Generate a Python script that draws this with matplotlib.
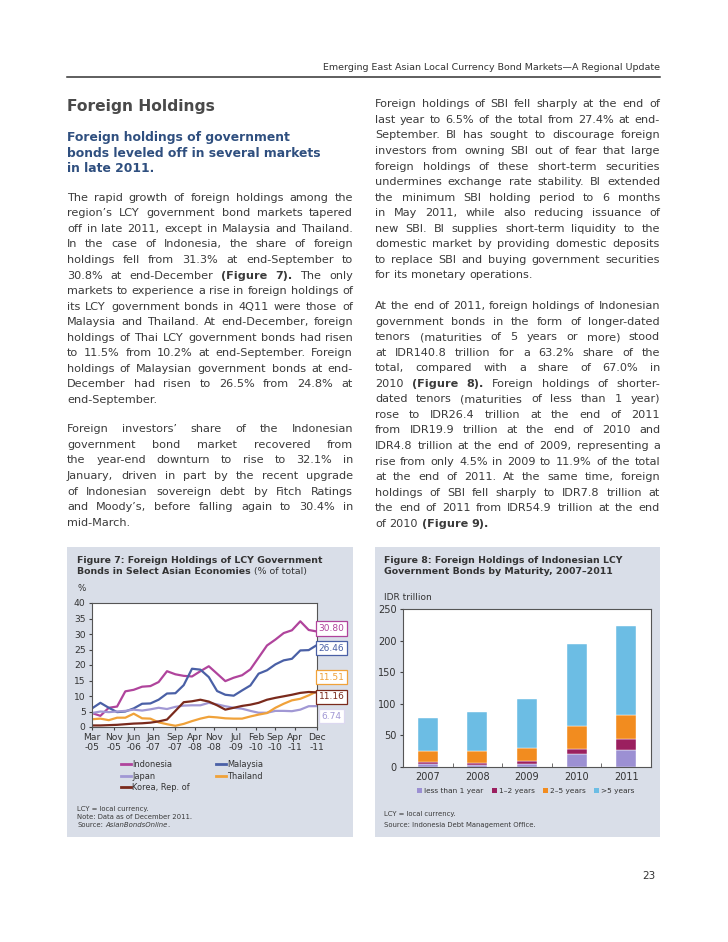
import matplotlib.pyplot as plt
import numpy as np
import pandas as pd
from matplotlib.patches import Rectangle
from matplotlib.transforms import blended_transform_factory

W, H = 728, 942
PX = 100 / 72  # pixels per point at dpi 100
LINE = 15.55

BODY = "#3a3a3a"
PANEL = "#d9dee8"
HEAD_BLUE = "#2f4f7f"

# ---- Figure 7: foreign holdings of LCY government bonds (% of total), quarterly
quarter_dates = pd.date_range("2005-03-01", "2011-12-01", freq="3MS")
tick_dates = pd.to_datetime([
    "2005-03-01", "2005-11-01", "2006-06-01", "2007-01-01", "2007-09-01", "2008-04-01",
    "2008-11-01", "2009-07-01", "2010-02-01", "2010-09-01", "2011-04-01", "2011-12-01",
])
indonesia = [4.5, 3.6, 6.2, 6.6, 11.5, 12.0, 13.0, 13.2, 14.5, 18.0, 17.0, 16.5, 16.3, 18.0,
             19.6, 17.2, 14.8, 15.9, 16.7, 18.6, 22.4, 26.3, 28.2, 30.3, 31.2, 34.1, 31.3, 30.80]
malaysia = [6.0, 7.8, 6.2, 4.8, 5.0, 6.0, 7.5, 7.6, 8.8, 10.8, 10.9, 13.5, 18.8, 18.5,
            16.1, 11.6, 10.4, 10.1, 11.8, 13.4, 17.2, 18.3, 20.2, 21.5, 22.0, 24.7, 24.8, 26.46]
japan = [4.5, 5.0, 4.8, 5.0, 5.2, 5.6, 5.3, 5.7, 6.2, 5.8, 6.5, 6.9, 7.0, 7.0,
         7.8, 7.3, 6.7, 6.2, 5.9, 5.2, 4.6, 4.6, 5.2, 5.2, 5.1, 5.6, 6.7, 6.74]
thailand = [2.5, 2.7, 2.2, 3.0, 3.0, 4.3, 2.8, 2.7, 1.5, 0.9, 0.4, 1.0, 1.9, 2.7,
            3.3, 3.1, 2.8, 2.7, 2.7, 3.4, 4.0, 4.5, 6.2, 7.5, 8.6, 9.1, 10.2, 11.51]
korea = [0.5, 0.5, 0.6, 0.7, 0.9, 1.1, 1.2, 1.4, 1.8, 2.4, 5.2, 8.0, 8.3, 8.8,
         8.2, 7.0, 5.6, 6.2, 6.8, 7.2, 7.8, 8.8, 9.4, 9.9, 10.4, 11.0, 11.3, 11.16]

series_names = ["Indonesia", "Malaysia", "Japan", "Thailand", "Korea, Rep. of"]
series_values = [indonesia, malaysia, japan, thailand, korea]
series_colors = ["#b0449c", "#4a60a6", "#a198d4", "#f0a23a", "#7a2a1c"]
label_edges = ["#b0449c", "#4a60a6", "#dcd8f0", "#f0a23a", "#7a2a1c"]

# ---- Figure 8: foreign holdings of Indonesian LCY govt bonds by maturity (IDR trillion)
years = ["2007", "2008", "2009", "2010", "2011"]
less_1y = [3.8, 2.5, 4.8, 19.9, 26.4]
y1_2 = [3.6, 2.8, 3.7, 8.0, 17.6]
y2_5 = [17.5, 19.5, 21.7, 36.0, 38.0]
over_5y = [52.5, 62.0, 77.8, 131.4, 140.8]
maturity_names = ["less than 1 year", "1\u20132 years", "2\u20135 years", ">5 years"]
maturity_values = [less_1y, y1_2, y2_5, over_5y]
maturity_colors = ["#9c90d3", "#9b1f5f", "#f28c1f", "#6cbde4"]

left_col = [
    ["The rapid growth of foreign holdings among the",
     "region\u2019s LCY government bond markets tapered",
     "off in late 2011, except in Malaysia and Thailand.",
     "In the case of Indonesia, the share of foreign",
     "holdings fell from 31.3% at end-September to",
     "30.8% at end-December *(Figure *7). The only",
     "markets to experience a rise in foreign holdings of",
     "its LCY government bonds in 4Q11 were those of",
     "Malaysia and Thailand. At end-December, foreign",
     "holdings of Thai LCY government bonds had risen",
     "to 11.5% from 10.2% at end-September. Foreign",
     "holdings of Malaysian government bonds at end-",
     "December had risen to 26.5% from 24.8% at",
     "end-September."],
    ["Foreign investors\u2019 share of the Indonesian",
     "government bond market recovered from",
     "the year-end downturn to rise to 32.1% in",
     "January, driven in part by the recent upgrade",
     "of Indonesian sovereign debt by Fitch Ratings",
     "and Moody\u2019s, before falling again to 30.4% in",
     "mid-March."],
]
right_col = [
    ["Foreign holdings of SBI fell sharply at the end of",
     "last year to 6.5% of the total from 27.4% at end-",
     "September. BI has sought to discourage foreign",
     "investors from owning SBI out of fear that large",
     "foreign holdings of these short-term securities",
     "undermines exchange rate stability. BI extended",
     "the minimum SBI holding period to 6 months",
     "in May 2011, while also reducing issuance of",
     "new SBI. BI supplies short-term liquidity to the",
     "domestic market by providing domestic deposits",
     "to replace SBI and buying government securities",
     "for its monetary operations."],
    ["At the end of 2011, foreign holdings of Indonesian",
     "government bonds in the form of longer-dated",
     "tenors (maturities of 5 years or more) stood",
     "at IDR140.8 trillion for a 63.2% share of the",
     "total, compared with a share of 67.0% in",
     "2010 *(Figure *8). Foreign holdings of shorter-",
     "dated tenors (maturities of less than 1 year)",
     "rose to IDR26.4 trillion at the end of 2011",
     "from IDR19.9 trillion at the end of 2010 and",
     "IDR4.8 trillion at the end of 2009, representing a",
     "rise from only 4.5% in 2009 to 11.9% of the total",
     "at the end of 2011. At the same time, foreign",
     "holdings of SBI fell sharply to IDR7.8 trillion at",
     "the end of 2011 from IDR54.9 trillion at the end",
     "of 2010 *(Figure *9)."],
]

fig = plt.figure(figsize=(W / 100, H / 100), dpi=100)
page = fig.add_axes([0, 0, 1, 1])
page.set_xlim(0, W)
page.set_ylim(H, 0)
page.axis("off")
renderer = fig.canvas.get_renderer()


def measure(s, size, **kw):
    t = page.text(0, 0, s, fontsize=size, **kw)
    w = t.get_window_extent(renderer).width
    t.remove()
    return w


def fit(s, width, **kw):
    return 10 * width / measure(s, 10, **kw)


def put(x, yc, s, size, **kw):
    kw.setdefault("color", BODY)
    return page.text(x, yc + 0.36 * size * PX, s, fontsize=size, va="baseline", **kw)


def space(size):
    return measure("a a", size) - measure("aa", size)


def line_words(line, size):
    words = []
    for tok in line.split():
        weight = "bold" if tok.startswith("*") else "normal"
        word = tok.lstrip("*")
        words.append((word, weight, measure(word, size, fontweight=weight)))
    return words


def natural_width(line, size):
    words = line_words(line, size)
    return sum(w for _, _, w in words) + space(size) * (len(words) - 1)


def draw_para(lines, x0, x1, y0, size):
    sp = space(size)
    for i, line in enumerate(lines):
        words = line_words(line, size)
        total = sum(w for _, _, w in words)
        last = i == len(lines) - 1
        gap = sp if last or len(words) < 2 else (x1 - x0 - total) / (len(words) - 1)
        x = x0
        for word, weight, w in words:
            put(x, y0 + i * LINE, word, size, fontweight=weight)
            x += w + gap


def box(l, t, r, b):
    return [l / W, 1 - b / H, (r - l) / W, (b - t) / H]


def spread_labels(values, min_gap):
    order = np.argsort(values)[::-1]
    pos = np.array(values, float)[order]
    for _ in range(300):
        for i in range(len(pos) - 1):
            gap = pos[i] - pos[i + 1]
            if gap < min_gap:
                shift = (min_gap - gap) / 2
                pos[i] += shift
                pos[i + 1] -= shift
    out = np.empty_like(pos)
    out[order] = pos
    return out


# ---- page header
header = "Emerging East Asian Local Currency Bond Markets\u2014A Regional Update"
put(660, 67, header, fit(header, 336), ha="right", color="#333333")
page.plot([67, 660], [76.5, 76.5], color="#333333", lw=1.1)

title = "Foreign Holdings"
put(67, 105.5, title, fit(title, 148, fontweight="bold"), fontweight="bold", color="#4a4a4a")

sub = ["Foreign holdings of government", "bonds leveled off in several markets", "in late 2011."]
sub_size = fit(sub[1], 255, fontweight="bold")
for i, s in enumerate(sub):
    put(67, 136.7 + i * 15.5, s, sub_size, fontweight="bold", color=HEAD_BLUE)

# ---- body text (justified)
tight = []
for paras, width in ((left_col, 286), (right_col, 285)):
    for para in paras:
        for line in para[:-1]:
            tight.append(width / natural_width(line, 10))
body_size = 10 * min(tight) * 0.995

draw_para(left_col[0], 67, 353, 196.7, body_size)
draw_para(left_col[1], 67, 353, 428.3, body_size)
draw_para(right_col[0], 375, 660, 103.3, body_size)
draw_para(right_col[1], 375, 660, 305.0, body_size)

put(649, 875, "23", 7.5, ha="center", color="#333333")

# ---- panels
page.add_patch(Rectangle((67, 547), 286, 290, fc=PANEL, ec="none", zorder=0))
page.add_patch(Rectangle((375, 547), 285, 290, fc=PANEL, ec="none", zorder=0))

note_size = fit("Note: Data as of December 2011.", 116)

# ---- Figure 7
t7a = "Figure 7: Foreign Holdings of LCY Government"
t_size = fit(t7a, 246, fontweight="bold")
put(77, 560, t7a, t_size, fontweight="bold", color="#333333")
t7b = "Bonds in Select Asian Economies"
put(77, 571, t7b, t_size, fontweight="bold", color="#333333")
put(77 + measure(t7b, t_size, fontweight="bold") + space(t_size), 571, "(% of total)",
    t_size, color="#333333")
put(78, 588, "%", 6.3, color="#333333")

ax7 = fig.add_axes(box(92, 603, 317, 727))
for name, vals, c in zip(series_names, series_values, series_colors):
    ax7.plot(quarter_dates, vals, color=c, lw=1.6, label=name)
ax7.set_xlim(quarter_dates[0], quarter_dates[-1])
ax7.set_ylim(0, 40)
ax7.set_yticks(np.arange(0, 41, 5))
ax7.set_xticks(tick_dates)
ax7.set_xticklabels([d.strftime("%b") + "\n-" + d.strftime("%y") for d in tick_dates],
                    linespacing=1.15)
ax7.tick_params(labelsize=6.6, labelcolor="#333333", length=2.5, width=0.8, color="#444444", pad=2)
for sp in ax7.spines.values():
    sp.set_color("#555555")
    sp.set_linewidth(0.8)

last_vals = [v[-1] for v in series_values]
label_y = spread_labels(last_vals, 6.3)
trans = blended_transform_factory(ax7.transAxes, ax7.transData)
for v, yp, c, ec in zip(last_vals, label_y, series_colors, label_edges):
    ax7.text(1.064, yp, f"{v:.2f}", transform=trans, ha="center", va="center", fontsize=6.5,
             color=c, clip_on=False,
             bbox=dict(boxstyle="square,pad=0.28", fc="white", ec=ec, lw=0.9))

leg7_size = fit("Indonesia", 40)
for i, (name, c) in enumerate(zip(series_names, series_colors)):
    row, col = divmod(i, 2)
    lx = 121 + col * 95
    ly = 764.3 + row * 11.5
    page.plot([lx, lx + 10], [ly, ly], color=c, lw=2)
    put(lx + 11.5, ly, name, leg7_size, color="#333333")

put(77, 808.3, "LCY = local currency.", note_size)
put(77, 816.3, "Note: Data as of December 2011.", note_size)
put(77, 824.3, "Source:", note_size)
sx = 77 + measure("Source:", note_size) + space(note_size)
put(sx, 824.3, "AsianBondsOnline", note_size, fontstyle="italic")
put(sx + measure("AsianBondsOnline", note_size, fontstyle="italic"), 824.3, ".", note_size)

# ---- Figure 8
t8a = "Figure 8: Foreign Holdings of Indonesian LCY"
put(384, 560, t8a, t_size, fontweight="bold", color="#333333")
put(384, 571, "Government Bonds by Maturity, 2007\u20132011", t_size, fontweight="bold", color="#333333")
put(384, 597, "IDR trillion", 6.5, color="#333333")

ax8 = fig.add_axes(box(403, 609.3, 651, 766.7))
xpos = np.arange(len(years))
bottom = np.zeros(len(years))
for name, vals, c in zip(maturity_names, maturity_values, maturity_colors):
    ax8.bar(xpos, vals, width=0.4, bottom=bottom, color=c, edgecolor="white", linewidth=0.3)
    bottom += np.array(vals)
ax8.set_xlim(-0.5, len(years) - 0.5)
ax8.set_ylim(0, 250)
ax8.set_yticks(np.arange(0, 251, 50))
ax8.set_xticks(xpos)
ax8.set_xticklabels(years)
ax8.set_xticks(xpos[:-1] + 0.5, minor=True)
ax8.tick_params(axis="x", which="major", length=0, pad=4)
ax8.tick_params(axis="x", which="minor", length=3, direction="in", color="#555555")
ax8.tick_params(axis="y", length=2.5, width=0.8, color="#444444", pad=2)
ax8.tick_params(labelsize=7, labelcolor="#333333")
for sp in ax8.spines.values():
    sp.set_color("#555555")
    sp.set_linewidth(0.8)

leg8_size = fit("less than 1 year", 59)
lx = 417
for name, c in zip(maturity_names, maturity_colors):
    page.add_patch(Rectangle((lx, 788.2), 5, 5, fc=c, ec="none"))
    put(lx + 7, 790.7, name, leg8_size, color="#333333")
    lx += 7 + measure(name, leg8_size) + 8.5

put(384, 814, "LCY = local currency.", note_size)
put(384, 824.3, "Source: Indonesia Debt Management Office.", note_size)

fig.savefig("out.png", dpi=100)
